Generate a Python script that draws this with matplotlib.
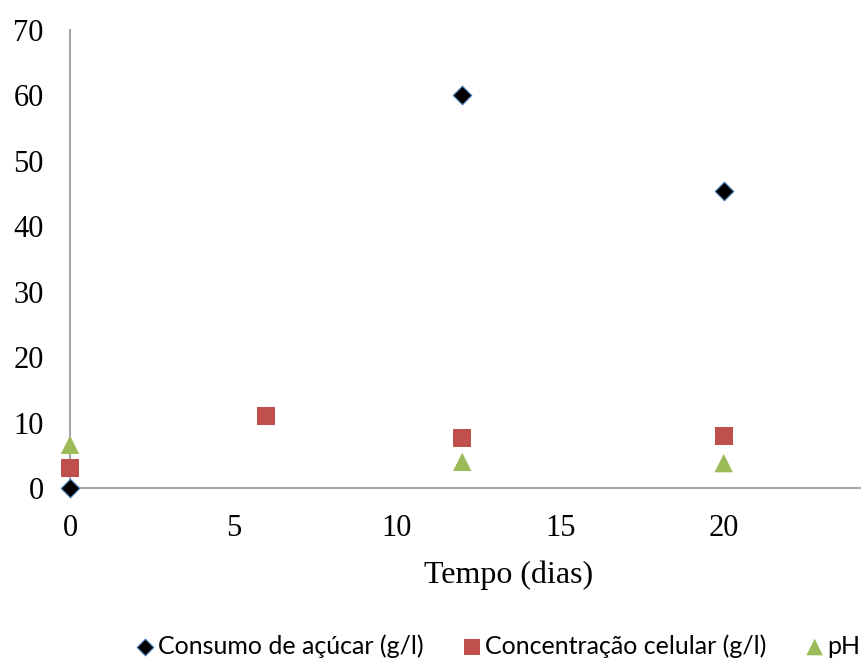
import matplotlib.pyplot as plt

# days sampled and measured values
dias_acucar = [0, 12, 20]
consumo_acucar = [0, 60, 45.4]

dias_celular = [0, 6, 12, 20]
conc_celular = [3.1, 11.0, 7.7, 8.0]

dias_ph = [0, 12, 20]
ph = [6.6, 4.0, 3.8]

x_ticks = [0, 5, 10, 15, 20]
y_ticks = [0, 10, 20, 30, 40, 50, 60, 70]

fig = plt.figure(figsize=(8.61, 6.59), dpi=100)
ax = fig.add_axes([70 / 861, 171 / 659, 791 / 861, 458 / 659])

ax.scatter(dias_acucar, consumo_acucar, marker="D", s=90, color="black",
           edgecolors="#4f81bd", linewidths=0.8, zorder=3, clip_on=False,
           label="Consumo de açúcar (g/l)")
ax.scatter(dias_celular, conc_celular, marker="s", s=170, color="#c0504d",
           edgecolors="none", zorder=3, clip_on=False,
           label="Concentração celular (g/l)")
ax.scatter(dias_ph, ph, marker="^", s=175, color="#9bbb59",
           edgecolors="none", zorder=3, clip_on=False, label="pH")

ax.set_xlim(0, 24.2)
ax.set_ylim(0, 70)
ax.set_xticks(x_ticks)
ax.set_yticks(y_ticks)
ax.tick_params(length=0, pad=19, labelsize=22)
for lbl in ax.get_xticklabels() + ax.get_yticklabels():
    lbl.set_fontfamily("Liberation Serif")

for side in ("top", "right"):
    ax.spines[side].set_visible(False)
for side in ("left", "bottom"):
    ax.spines[side].set_color("#a6a6a6")
    ax.spines[side].set_linewidth(1.5)
    ax.spines[side].set_zorder(1)

ax.set_xlabel("Tempo (dias)", fontsize=23, family="Liberation Serif")
ax.xaxis.set_label_coords((509 - 70) / 791, -(575 - 488) / 458, transform=ax.transAxes)
ax.xaxis.label.set_va("center")

fig.legend(loc="center", bbox_to_anchor=(0.578, 0.02), ncol=3, frameon=False,
           prop={"family": "Lato", "size": 18}, handlelength=0.8,
           handletextpad=0.1, columnspacing=1.55, markerscale=0.9)

fig.savefig("out.png", dpi=100)
